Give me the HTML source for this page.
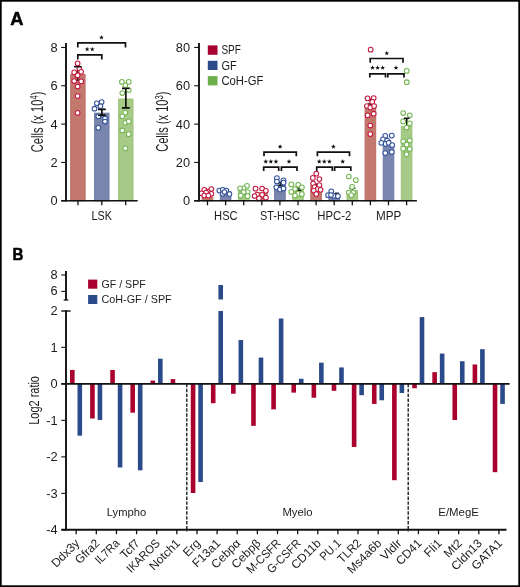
<!DOCTYPE html>
<html><head><meta charset="utf-8"><style>
html,body{margin:0;padding:0;background:#fff;}
body{width:520px;height:587px;overflow:hidden;}
svg{display:block;font-family:"Liberation Sans", sans-serif;will-change:transform;}
</style></head><body>
<svg width="520" height="587" viewBox="0 0 520 587">
<rect x="0" y="0" width="520" height="587" fill="#fff"/>
<text transform="translate(10.25,24.75) scale(1.04,1)" font-size="17.6" font-weight="bold" fill="#000" stroke="#000" stroke-width="0.45">A</text>
<line x1="61.20" y1="200.80" x2="66.00" y2="200.80" stroke="#111" stroke-width="1.1" />
<text x="57.60" y="205.35" font-size="12.8" text-anchor="end" font-weight="normal" fill="#1c1c1c" >0</text>
<line x1="61.20" y1="162.46" x2="66.00" y2="162.46" stroke="#111" stroke-width="1.1" />
<text x="57.60" y="167.01" font-size="12.8" text-anchor="end" font-weight="normal" fill="#1c1c1c" >2</text>
<line x1="61.20" y1="124.12" x2="66.00" y2="124.12" stroke="#111" stroke-width="1.1" />
<text x="57.60" y="128.67" font-size="12.8" text-anchor="end" font-weight="normal" fill="#1c1c1c" >4</text>
<line x1="61.20" y1="85.78" x2="66.00" y2="85.78" stroke="#111" stroke-width="1.1" />
<text x="57.60" y="90.33" font-size="12.8" text-anchor="end" font-weight="normal" fill="#1c1c1c" >6</text>
<line x1="61.20" y1="47.44" x2="66.00" y2="47.44" stroke="#111" stroke-width="1.1" />
<text x="57.60" y="51.99" font-size="12.8" text-anchor="end" font-weight="normal" fill="#1c1c1c" >8</text>
<rect x="70.70" y="74.50" width="14.40" height="126.30" fill="#c3786d" stroke="#bb6b61" stroke-width="1"/>
<rect x="94.60" y="113.20" width="14.40" height="87.60" fill="#7a85ad" stroke="#6f7aa6" stroke-width="1"/>
<rect x="118.60" y="99.00" width="14.40" height="101.80" fill="#a8ca88" stroke="#9cc37b" stroke-width="1"/>
<line x1="77.80" y1="66.70" x2="77.80" y2="81.00" stroke="#111" stroke-width="1.3" />
<line x1="101.80" y1="109.40" x2="101.80" y2="115.30" stroke="#111" stroke-width="1.3" />
<line x1="98.00" y1="109.40" x2="105.60" y2="109.40" stroke="#111" stroke-width="1.5" />
<line x1="98.00" y1="115.30" x2="105.60" y2="115.30" stroke="#111" stroke-width="1.5" />
<line x1="125.80" y1="88.40" x2="125.80" y2="107.80" stroke="#111" stroke-width="1.3" />
<line x1="122.00" y1="88.40" x2="129.60" y2="88.40" stroke="#111" stroke-width="1.5" />
<line x1="122.00" y1="107.80" x2="129.60" y2="107.80" stroke="#111" stroke-width="1.5" />
<circle cx="77.60" cy="63.40" r="2.35" fill="#fff" stroke="#c41a40" stroke-width="1.05"/>
<circle cx="79.30" cy="68.80" r="2.35" fill="#fff" stroke="#c41a40" stroke-width="1.05"/>
<circle cx="74.20" cy="72.40" r="2.35" fill="#fff" stroke="#c41a40" stroke-width="1.05"/>
<circle cx="81.20" cy="71.80" r="2.35" fill="#fff" stroke="#c41a40" stroke-width="1.05"/>
<circle cx="77.60" cy="75.40" r="2.35" fill="#fff" stroke="#c41a40" stroke-width="1.05"/>
<circle cx="74.20" cy="81.00" r="2.35" fill="#fff" stroke="#c41a40" stroke-width="1.05"/>
<circle cx="81.20" cy="81.40" r="2.35" fill="#fff" stroke="#c41a40" stroke-width="1.05"/>
<circle cx="77.60" cy="86.50" r="2.35" fill="#fff" stroke="#c41a40" stroke-width="1.05"/>
<circle cx="77.60" cy="96.10" r="2.35" fill="#fff" stroke="#c41a40" stroke-width="1.05"/>
<circle cx="77.60" cy="112.90" r="2.35" fill="#fff" stroke="#c41a40" stroke-width="1.05"/>
<line x1="74.00" y1="66.70" x2="81.60" y2="66.70" stroke="#111" stroke-width="1.5" />
<circle cx="101.60" cy="102.10" r="2.35" fill="#fff" stroke="#32529a" stroke-width="1.05"/>
<circle cx="96.80" cy="103.30" r="2.35" fill="#fff" stroke="#32529a" stroke-width="1.05"/>
<circle cx="100.40" cy="106.20" r="2.35" fill="#fff" stroke="#32529a" stroke-width="1.05"/>
<circle cx="94.50" cy="108.70" r="2.35" fill="#fff" stroke="#32529a" stroke-width="1.05"/>
<circle cx="98.30" cy="116.40" r="2.35" fill="#fff" stroke="#32529a" stroke-width="1.05"/>
<circle cx="105.00" cy="118.60" r="2.35" fill="#fff" stroke="#32529a" stroke-width="1.05"/>
<circle cx="105.00" cy="121.50" r="2.35" fill="#fff" stroke="#32529a" stroke-width="1.05"/>
<circle cx="98.30" cy="127.80" r="2.35" fill="#fff" stroke="#32529a" stroke-width="1.05"/>
<line x1="101.80" y1="109.40" x2="101.80" y2="115.30" stroke="#111" stroke-width="1.3" />
<line x1="98.00" y1="109.40" x2="105.60" y2="109.40" stroke="#111" stroke-width="1.5" />
<line x1="98.00" y1="115.30" x2="105.60" y2="115.30" stroke="#111" stroke-width="1.5" />
<circle cx="121.90" cy="81.90" r="2.35" fill="#fff" stroke="#74b652" stroke-width="1.05"/>
<circle cx="128.70" cy="81.90" r="2.35" fill="#fff" stroke="#74b652" stroke-width="1.05"/>
<circle cx="125.30" cy="85.30" r="2.35" fill="#fff" stroke="#74b652" stroke-width="1.05"/>
<circle cx="122.30" cy="93.00" r="2.35" fill="#fff" stroke="#74b652" stroke-width="1.05"/>
<circle cx="128.70" cy="90.10" r="2.35" fill="#fff" stroke="#74b652" stroke-width="1.05"/>
<circle cx="125.30" cy="112.60" r="2.35" fill="#fff" stroke="#74b652" stroke-width="1.05"/>
<circle cx="122.30" cy="116.30" r="2.35" fill="#fff" stroke="#74b652" stroke-width="1.05"/>
<circle cx="125.30" cy="122.80" r="2.35" fill="#fff" stroke="#74b652" stroke-width="1.05"/>
<circle cx="128.70" cy="121.40" r="2.35" fill="#fff" stroke="#74b652" stroke-width="1.05"/>
<circle cx="122.30" cy="130.50" r="2.35" fill="#fff" stroke="#74b652" stroke-width="1.05"/>
<circle cx="128.70" cy="134.20" r="2.35" fill="#fff" stroke="#74b652" stroke-width="1.05"/>
<circle cx="125.30" cy="148.40" r="2.35" fill="#fff" stroke="#74b652" stroke-width="1.05"/>
<line x1="125.80" y1="88.40" x2="125.80" y2="107.80" stroke="#111" stroke-width="1.3" />
<line x1="122.00" y1="88.40" x2="129.60" y2="88.40" stroke="#111" stroke-width="1.5" />
<line x1="122.00" y1="107.80" x2="129.60" y2="107.80" stroke="#111" stroke-width="1.5" />
<line x1="66.00" y1="43.10" x2="66.00" y2="201.60" stroke="#111" stroke-width="1.9" />
<line x1="61.20" y1="200.80" x2="137.70" y2="200.80" stroke="#111" stroke-width="1.6" />
<line x1="78.00" y1="200.80" x2="78.00" y2="205.30" stroke="#111" stroke-width="1.3" />
<line x1="101.80" y1="200.80" x2="101.80" y2="205.30" stroke="#111" stroke-width="1.3" />
<line x1="125.70" y1="200.80" x2="125.70" y2="205.30" stroke="#111" stroke-width="1.3" />
<path d="M77.80 47.60V42.80H125.50V47.60" fill="none" stroke="#111" stroke-width="1.7"/>
<path d="M77.80 59.50V54.80H101.80V59.50" fill="none" stroke="#111" stroke-width="1.7"/>
<polygon points="101.50,35.00 102.12,36.65 103.88,36.73 102.50,37.82 102.97,39.52 101.50,38.55 100.03,39.52 100.50,37.82 99.12,36.73 100.88,36.65" fill="#111"/>
<polygon points="87.15,46.80 87.77,48.45 89.53,48.53 88.15,49.62 88.62,51.32 87.15,50.35 85.68,51.32 86.15,49.62 84.77,48.53 86.53,48.45" fill="#111"/>
<polygon points="92.25,46.80 92.87,48.45 94.63,48.53 93.25,49.62 93.72,51.32 92.25,50.35 90.78,51.32 91.25,49.62 89.87,48.53 91.63,48.45" fill="#111"/>
<text x="101.80" y="220.20" font-size="12" text-anchor="middle" textLength="20.5" lengthAdjust="spacingAndGlyphs" fill="#1c1c1c" >LSK</text>
<text transform="translate(43.00,121.90) rotate(-90) scale(0.68,1)" font-size="16.4" text-anchor="middle" fill="#1c1c1c">Cells (x 10<tspan font-size="11.3" dy="-5.2">4</tspan><tspan dy="5.2">)</tspan></text>
<line x1="194.20" y1="200.80" x2="199.00" y2="200.80" stroke="#111" stroke-width="1.1" />
<text x="190.00" y="205.35" font-size="12.8" text-anchor="end" font-weight="normal" fill="#1c1c1c" >0</text>
<line x1="194.20" y1="162.46" x2="199.00" y2="162.46" stroke="#111" stroke-width="1.1" />
<text x="190.00" y="167.01" font-size="12.8" text-anchor="end" font-weight="normal" fill="#1c1c1c" >20</text>
<line x1="194.20" y1="124.12" x2="199.00" y2="124.12" stroke="#111" stroke-width="1.1" />
<text x="190.00" y="128.67" font-size="12.8" text-anchor="end" font-weight="normal" fill="#1c1c1c" >40</text>
<line x1="194.20" y1="85.77" x2="199.00" y2="85.77" stroke="#111" stroke-width="1.1" />
<text x="190.00" y="90.32" font-size="12.8" text-anchor="end" font-weight="normal" fill="#1c1c1c" >60</text>
<line x1="194.20" y1="47.43" x2="199.00" y2="47.43" stroke="#111" stroke-width="1.1" />
<text x="190.00" y="51.98" font-size="12.8" text-anchor="end" font-weight="normal" fill="#1c1c1c" >80</text>
<rect x="202.20" y="197.20" width="10.60" height="3.60" fill="#c3786d" stroke="#bb6b61" stroke-width="1"/>
<rect x="220.30" y="191.70" width="10.60" height="9.10" fill="#7a85ad" stroke="#6f7aa6" stroke-width="1"/>
<rect x="238.40" y="191.50" width="10.60" height="9.30" fill="#a8ca88" stroke="#9cc37b" stroke-width="1"/>
<rect x="256.50" y="193.00" width="10.60" height="7.80" fill="#c3786d" stroke="#bb6b61" stroke-width="1"/>
<rect x="274.60" y="185.30" width="10.60" height="15.50" fill="#7a85ad" stroke="#6f7aa6" stroke-width="1"/>
<rect x="292.70" y="190.70" width="10.60" height="10.10" fill="#a8ca88" stroke="#9cc37b" stroke-width="1"/>
<rect x="310.80" y="186.30" width="10.60" height="14.50" fill="#c3786d" stroke="#bb6b61" stroke-width="1"/>
<rect x="328.90" y="196.10" width="10.60" height="4.70" fill="#7a85ad" stroke="#6f7aa6" stroke-width="1"/>
<rect x="347.00" y="190.70" width="10.60" height="10.10" fill="#a8ca88" stroke="#9cc37b" stroke-width="1"/>
<rect x="365.10" y="107.50" width="10.60" height="93.30" fill="#c3786d" stroke="#bb6b61" stroke-width="1"/>
<rect x="383.20" y="146.40" width="10.60" height="54.40" fill="#7a85ad" stroke="#6f7aa6" stroke-width="1"/>
<rect x="401.30" y="126.50" width="10.60" height="74.30" fill="#a8ca88" stroke="#9cc37b" stroke-width="1"/>
<line x1="406.70" y1="118.30" x2="406.70" y2="126.00" stroke="#111" stroke-width="1.3" />
<line x1="316.40" y1="184.30" x2="316.40" y2="190.00" stroke="#111" stroke-width="1.3" />
<line x1="313.80" y1="184.30" x2="319.00" y2="184.30" stroke="#111" stroke-width="1.5" />
<line x1="313.80" y1="190.00" x2="319.00" y2="190.00" stroke="#111" stroke-width="1.5" />
<line x1="352.40" y1="188.30" x2="352.40" y2="193.00" stroke="#111" stroke-width="1.3" />
<line x1="349.40" y1="188.30" x2="355.40" y2="188.30" stroke="#111" stroke-width="1.5" />
<line x1="349.40" y1="193.00" x2="355.40" y2="193.00" stroke="#111" stroke-width="1.5" />
<line x1="370.50" y1="99.30" x2="370.50" y2="104.00" stroke="#111" stroke-width="1.3" />
<line x1="367.90" y1="99.30" x2="373.10" y2="99.30" stroke="#111" stroke-width="1.5" />
<line x1="367.90" y1="104.00" x2="373.10" y2="104.00" stroke="#111" stroke-width="1.5" />
<line x1="337.00" y1="193.30" x2="337.00" y2="196.00" stroke="#111" stroke-width="1.3" />
<line x1="335.00" y1="193.30" x2="339.00" y2="193.30" stroke="#111" stroke-width="1.5" />
<line x1="335.00" y1="196.00" x2="339.00" y2="196.00" stroke="#111" stroke-width="1.5" />
<line x1="388.40" y1="141.00" x2="388.40" y2="144.00" stroke="#111" stroke-width="1.3" />
<line x1="385.90" y1="141.00" x2="390.90" y2="141.00" stroke="#111" stroke-width="1.5" />
<line x1="385.90" y1="144.00" x2="390.90" y2="144.00" stroke="#111" stroke-width="1.5" />
<line x1="280.20" y1="182.50" x2="280.20" y2="185.50" stroke="#111" stroke-width="1.3" />
<line x1="277.70" y1="182.50" x2="282.70" y2="182.50" stroke="#111" stroke-width="1.5" />
<line x1="277.70" y1="185.50" x2="282.70" y2="185.50" stroke="#111" stroke-width="1.5" />
<line x1="299.00" y1="188.00" x2="299.00" y2="190.50" stroke="#111" stroke-width="1.3" />
<line x1="296.50" y1="188.00" x2="301.50" y2="188.00" stroke="#111" stroke-width="1.5" />
<line x1="296.50" y1="190.50" x2="301.50" y2="190.50" stroke="#111" stroke-width="1.5" />
<circle cx="204.30" cy="189.80" r="2.35" fill="#fff" stroke="#c41a40" stroke-width="1.05"/>
<circle cx="211.30" cy="189.00" r="2.35" fill="#fff" stroke="#c41a40" stroke-width="1.05"/>
<circle cx="207.80" cy="191.50" r="2.35" fill="#fff" stroke="#c41a40" stroke-width="1.05"/>
<circle cx="201.50" cy="193.30" r="2.35" fill="#fff" stroke="#c41a40" stroke-width="1.05"/>
<circle cx="206.10" cy="192.70" r="2.35" fill="#fff" stroke="#c41a40" stroke-width="1.05"/>
<circle cx="211.30" cy="193.80" r="2.35" fill="#fff" stroke="#c41a40" stroke-width="1.05"/>
<circle cx="204.30" cy="195.60" r="2.35" fill="#fff" stroke="#c41a40" stroke-width="1.05"/>
<circle cx="208.40" cy="195.60" r="2.35" fill="#fff" stroke="#c41a40" stroke-width="1.05"/>
<circle cx="219.30" cy="190.60" r="2.35" fill="#fff" stroke="#32529a" stroke-width="1.05"/>
<circle cx="222.80" cy="189.80" r="2.35" fill="#fff" stroke="#32529a" stroke-width="1.05"/>
<circle cx="226.30" cy="190.60" r="2.35" fill="#fff" stroke="#32529a" stroke-width="1.05"/>
<circle cx="222.80" cy="193.80" r="2.35" fill="#fff" stroke="#32529a" stroke-width="1.05"/>
<circle cx="229.40" cy="194.10" r="2.35" fill="#fff" stroke="#32529a" stroke-width="1.05"/>
<circle cx="224.50" cy="192.00" r="2.35" fill="#fff" stroke="#32529a" stroke-width="1.05"/>
<circle cx="247.00" cy="185.80" r="2.35" fill="#fff" stroke="#74b652" stroke-width="1.05"/>
<circle cx="243.60" cy="188.30" r="2.35" fill="#fff" stroke="#74b652" stroke-width="1.05"/>
<circle cx="240.10" cy="188.30" r="2.35" fill="#fff" stroke="#74b652" stroke-width="1.05"/>
<circle cx="247.60" cy="192.10" r="2.35" fill="#fff" stroke="#74b652" stroke-width="1.05"/>
<circle cx="243.60" cy="192.10" r="2.35" fill="#fff" stroke="#74b652" stroke-width="1.05"/>
<circle cx="240.70" cy="195.60" r="2.35" fill="#fff" stroke="#74b652" stroke-width="1.05"/>
<circle cx="247.60" cy="196.20" r="2.35" fill="#fff" stroke="#74b652" stroke-width="1.05"/>
<circle cx="255.50" cy="188.70" r="2.35" fill="#fff" stroke="#c41a40" stroke-width="1.05"/>
<circle cx="262.10" cy="188.50" r="2.35" fill="#fff" stroke="#c41a40" stroke-width="1.05"/>
<circle cx="265.90" cy="190.80" r="2.35" fill="#fff" stroke="#c41a40" stroke-width="1.05"/>
<circle cx="257.20" cy="194.50" r="2.35" fill="#fff" stroke="#c41a40" stroke-width="1.05"/>
<circle cx="262.10" cy="194.80" r="2.35" fill="#fff" stroke="#c41a40" stroke-width="1.05"/>
<circle cx="265.90" cy="197.70" r="2.35" fill="#fff" stroke="#c41a40" stroke-width="1.05"/>
<circle cx="259.00" cy="198.30" r="2.35" fill="#fff" stroke="#c41a40" stroke-width="1.05"/>
<circle cx="254.60" cy="196.00" r="2.35" fill="#fff" stroke="#c41a40" stroke-width="1.05"/>
<circle cx="276.90" cy="178.10" r="2.35" fill="#fff" stroke="#32529a" stroke-width="1.05"/>
<circle cx="283.50" cy="180.40" r="2.35" fill="#fff" stroke="#32529a" stroke-width="1.05"/>
<circle cx="276.90" cy="181.50" r="2.35" fill="#fff" stroke="#32529a" stroke-width="1.05"/>
<circle cx="283.50" cy="182.70" r="2.35" fill="#fff" stroke="#32529a" stroke-width="1.05"/>
<circle cx="276.30" cy="187.30" r="2.35" fill="#fff" stroke="#32529a" stroke-width="1.05"/>
<circle cx="280.00" cy="189.60" r="2.35" fill="#fff" stroke="#32529a" stroke-width="1.05"/>
<circle cx="283.50" cy="188.50" r="2.35" fill="#fff" stroke="#32529a" stroke-width="1.05"/>
<circle cx="291.30" cy="184.40" r="2.35" fill="#fff" stroke="#74b652" stroke-width="1.05"/>
<circle cx="298.20" cy="184.80" r="2.35" fill="#fff" stroke="#74b652" stroke-width="1.05"/>
<circle cx="301.90" cy="187.30" r="2.35" fill="#fff" stroke="#74b652" stroke-width="1.05"/>
<circle cx="295.00" cy="189.00" r="2.35" fill="#fff" stroke="#74b652" stroke-width="1.05"/>
<circle cx="291.30" cy="191.90" r="2.35" fill="#fff" stroke="#74b652" stroke-width="1.05"/>
<circle cx="298.20" cy="193.70" r="2.35" fill="#fff" stroke="#74b652" stroke-width="1.05"/>
<circle cx="301.90" cy="194.20" r="2.35" fill="#fff" stroke="#74b652" stroke-width="1.05"/>
<circle cx="295.00" cy="195.60" r="2.35" fill="#fff" stroke="#74b652" stroke-width="1.05"/>
<circle cx="316.30" cy="173.70" r="2.35" fill="#fff" stroke="#c41a40" stroke-width="1.05"/>
<circle cx="312.80" cy="177.90" r="2.35" fill="#fff" stroke="#c41a40" stroke-width="1.05"/>
<circle cx="319.40" cy="179.10" r="2.35" fill="#fff" stroke="#c41a40" stroke-width="1.05"/>
<circle cx="313.10" cy="183.50" r="2.35" fill="#fff" stroke="#c41a40" stroke-width="1.05"/>
<circle cx="319.40" cy="185.20" r="2.35" fill="#fff" stroke="#c41a40" stroke-width="1.05"/>
<circle cx="314.50" cy="187.20" r="2.35" fill="#fff" stroke="#c41a40" stroke-width="1.05"/>
<circle cx="317.70" cy="189.20" r="2.35" fill="#fff" stroke="#c41a40" stroke-width="1.05"/>
<circle cx="313.70" cy="190.60" r="2.35" fill="#fff" stroke="#c41a40" stroke-width="1.05"/>
<circle cx="320.60" cy="189.80" r="2.35" fill="#fff" stroke="#c41a40" stroke-width="1.05"/>
<circle cx="316.30" cy="194.10" r="2.35" fill="#fff" stroke="#c41a40" stroke-width="1.05"/>
<circle cx="331.30" cy="191.30" r="2.35" fill="#fff" stroke="#32529a" stroke-width="1.05"/>
<circle cx="328.10" cy="195.20" r="2.35" fill="#fff" stroke="#32529a" stroke-width="1.05"/>
<circle cx="333.60" cy="195.90" r="2.35" fill="#fff" stroke="#32529a" stroke-width="1.05"/>
<circle cx="337.90" cy="196.20" r="2.35" fill="#fff" stroke="#32529a" stroke-width="1.05"/>
<circle cx="331.00" cy="195.00" r="2.35" fill="#fff" stroke="#32529a" stroke-width="1.05"/>
<circle cx="348.80" cy="176.50" r="2.35" fill="#fff" stroke="#74b652" stroke-width="1.05"/>
<circle cx="355.80" cy="180.20" r="2.35" fill="#fff" stroke="#74b652" stroke-width="1.05"/>
<circle cx="352.10" cy="186.90" r="2.35" fill="#fff" stroke="#74b652" stroke-width="1.05"/>
<circle cx="348.80" cy="192.50" r="2.35" fill="#fff" stroke="#74b652" stroke-width="1.05"/>
<circle cx="353.20" cy="192.50" r="2.35" fill="#fff" stroke="#74b652" stroke-width="1.05"/>
<circle cx="351.20" cy="195.20" r="2.35" fill="#fff" stroke="#74b652" stroke-width="1.05"/>
<circle cx="370.65" cy="49.65" r="2.35" fill="#fff" stroke="#c41a40" stroke-width="1.05"/>
<circle cx="367.60" cy="98.40" r="2.35" fill="#fff" stroke="#c41a40" stroke-width="1.05"/>
<circle cx="373.70" cy="98.00" r="2.35" fill="#fff" stroke="#c41a40" stroke-width="1.05"/>
<circle cx="372.20" cy="101.90" r="2.35" fill="#fff" stroke="#c41a40" stroke-width="1.05"/>
<circle cx="366.90" cy="106.10" r="2.35" fill="#fff" stroke="#c41a40" stroke-width="1.05"/>
<circle cx="370.30" cy="107.60" r="2.35" fill="#fff" stroke="#c41a40" stroke-width="1.05"/>
<circle cx="374.10" cy="106.10" r="2.35" fill="#fff" stroke="#c41a40" stroke-width="1.05"/>
<circle cx="367.60" cy="115.30" r="2.35" fill="#fff" stroke="#c41a40" stroke-width="1.05"/>
<circle cx="373.70" cy="113.70" r="2.35" fill="#fff" stroke="#c41a40" stroke-width="1.05"/>
<circle cx="370.30" cy="125.50" r="2.35" fill="#fff" stroke="#c41a40" stroke-width="1.05"/>
<circle cx="370.30" cy="134.10" r="2.35" fill="#fff" stroke="#c41a40" stroke-width="1.05"/>
<circle cx="385.30" cy="135.90" r="2.35" fill="#fff" stroke="#32529a" stroke-width="1.05"/>
<circle cx="391.80" cy="135.60" r="2.35" fill="#fff" stroke="#32529a" stroke-width="1.05"/>
<circle cx="383.00" cy="139.30" r="2.35" fill="#fff" stroke="#32529a" stroke-width="1.05"/>
<circle cx="387.20" cy="140.50" r="2.35" fill="#fff" stroke="#32529a" stroke-width="1.05"/>
<circle cx="381.30" cy="142.80" r="2.35" fill="#fff" stroke="#32529a" stroke-width="1.05"/>
<circle cx="385.60" cy="143.90" r="2.35" fill="#fff" stroke="#32529a" stroke-width="1.05"/>
<circle cx="388.70" cy="142.80" r="2.35" fill="#fff" stroke="#32529a" stroke-width="1.05"/>
<circle cx="392.20" cy="145.10" r="2.35" fill="#fff" stroke="#32529a" stroke-width="1.05"/>
<circle cx="385.30" cy="153.10" r="2.35" fill="#fff" stroke="#32529a" stroke-width="1.05"/>
<circle cx="391.80" cy="152.00" r="2.35" fill="#fff" stroke="#32529a" stroke-width="1.05"/>
<circle cx="406.75" cy="70.90" r="2.35" fill="#fff" stroke="#74b652" stroke-width="1.05"/>
<circle cx="406.80" cy="82.20" r="2.35" fill="#fff" stroke="#74b652" stroke-width="1.05"/>
<circle cx="403.20" cy="113.00" r="2.35" fill="#fff" stroke="#74b652" stroke-width="1.05"/>
<circle cx="409.80" cy="115.30" r="2.35" fill="#fff" stroke="#74b652" stroke-width="1.05"/>
<circle cx="403.20" cy="121.40" r="2.35" fill="#fff" stroke="#74b652" stroke-width="1.05"/>
<circle cx="409.80" cy="123.40" r="2.35" fill="#fff" stroke="#74b652" stroke-width="1.05"/>
<circle cx="406.60" cy="127.50" r="2.35" fill="#fff" stroke="#74b652" stroke-width="1.05"/>
<circle cx="403.20" cy="141.30" r="2.35" fill="#fff" stroke="#74b652" stroke-width="1.05"/>
<circle cx="409.80" cy="140.50" r="2.35" fill="#fff" stroke="#74b652" stroke-width="1.05"/>
<circle cx="406.60" cy="144.70" r="2.35" fill="#fff" stroke="#74b652" stroke-width="1.05"/>
<circle cx="403.20" cy="148.70" r="2.35" fill="#fff" stroke="#74b652" stroke-width="1.05"/>
<circle cx="409.80" cy="149.00" r="2.35" fill="#fff" stroke="#74b652" stroke-width="1.05"/>
<circle cx="406.60" cy="154.30" r="2.35" fill="#fff" stroke="#74b652" stroke-width="1.05"/>
<line x1="403.90" y1="118.30" x2="409.50" y2="118.30" stroke="#111" stroke-width="1.5" />
<line x1="406.70" y1="118.30" x2="406.70" y2="121.50" stroke="#111" stroke-width="1.3" />
<line x1="199.00" y1="43.10" x2="199.00" y2="201.60" stroke="#111" stroke-width="1.9" />
<line x1="194.20" y1="200.80" x2="416.90" y2="200.80" stroke="#111" stroke-width="1.6" />
<line x1="207.50" y1="200.80" x2="207.50" y2="205.30" stroke="#111" stroke-width="1.3" />
<line x1="225.60" y1="200.80" x2="225.60" y2="205.30" stroke="#111" stroke-width="1.3" />
<line x1="243.70" y1="200.80" x2="243.70" y2="205.30" stroke="#111" stroke-width="1.3" />
<line x1="261.80" y1="200.80" x2="261.80" y2="205.30" stroke="#111" stroke-width="1.3" />
<line x1="279.90" y1="200.80" x2="279.90" y2="205.30" stroke="#111" stroke-width="1.3" />
<line x1="298.00" y1="200.80" x2="298.00" y2="205.30" stroke="#111" stroke-width="1.3" />
<line x1="316.10" y1="200.80" x2="316.10" y2="205.30" stroke="#111" stroke-width="1.3" />
<line x1="334.20" y1="200.80" x2="334.20" y2="205.30" stroke="#111" stroke-width="1.3" />
<line x1="352.30" y1="200.80" x2="352.30" y2="205.30" stroke="#111" stroke-width="1.3" />
<line x1="370.40" y1="200.80" x2="370.40" y2="205.30" stroke="#111" stroke-width="1.3" />
<line x1="388.50" y1="200.80" x2="388.50" y2="205.30" stroke="#111" stroke-width="1.3" />
<line x1="406.60" y1="200.80" x2="406.60" y2="205.30" stroke="#111" stroke-width="1.3" />
<path d="M264.00 156.30V152.10H296.30V156.30" fill="none" stroke="#111" stroke-width="1.7"/>
<path d="M263.70 171.00V167.20H278.70V171.00" fill="none" stroke="#111" stroke-width="1.7"/>
<path d="M281.40 171.00V167.20H297.00V171.00" fill="none" stroke="#111" stroke-width="1.7"/>
<polygon points="280.10,144.20 280.72,145.85 282.48,145.93 281.10,147.02 281.57,148.72 280.10,147.75 278.63,148.72 279.10,147.02 277.72,145.93 279.48,145.85" fill="#111"/>
<polygon points="265.75,159.10 266.37,160.75 268.13,160.83 266.75,161.92 267.22,163.62 265.75,162.65 264.28,163.62 264.75,161.92 263.37,160.83 265.13,160.75" fill="#111"/>
<polygon points="270.85,159.10 271.47,160.75 273.23,160.83 271.85,161.92 272.32,163.62 270.85,162.65 269.38,163.62 269.85,161.92 268.47,160.83 270.23,160.75" fill="#111"/>
<polygon points="275.95,159.10 276.57,160.75 278.33,160.83 276.95,161.92 277.42,163.62 275.95,162.65 274.48,163.62 274.95,161.92 273.57,160.83 275.33,160.75" fill="#111"/>
<polygon points="289.00,159.10 289.62,160.75 291.38,160.83 290.00,161.92 290.47,163.62 289.00,162.65 287.53,163.62 288.00,161.92 286.62,160.83 288.38,160.75" fill="#111"/>
<path d="M317.40 156.30V152.10H349.50V156.30" fill="none" stroke="#111" stroke-width="1.7"/>
<path d="M316.70 171.00V167.20H332.30V171.00" fill="none" stroke="#111" stroke-width="1.7"/>
<path d="M334.60 171.00V167.20H350.80V171.00" fill="none" stroke="#111" stroke-width="1.7"/>
<polygon points="333.40,144.20 334.02,145.85 335.78,145.93 334.40,147.02 334.87,148.72 333.40,147.75 331.93,148.72 332.40,147.02 331.02,145.93 332.78,145.85" fill="#111"/>
<polygon points="319.20,159.10 319.82,160.75 321.58,160.83 320.20,161.92 320.67,163.62 319.20,162.65 317.73,163.62 318.20,161.92 316.82,160.83 318.58,160.75" fill="#111"/>
<polygon points="324.30,159.10 324.92,160.75 326.68,160.83 325.30,161.92 325.77,163.62 324.30,162.65 322.83,163.62 323.30,161.92 321.92,160.83 323.68,160.75" fill="#111"/>
<polygon points="329.40,159.10 330.02,160.75 331.78,160.83 330.40,161.92 330.87,163.62 329.40,162.65 327.93,163.62 328.40,161.92 327.02,160.83 328.78,160.75" fill="#111"/>
<polygon points="342.70,159.10 343.32,160.75 345.08,160.83 343.70,161.92 344.17,163.62 342.70,162.65 341.23,163.62 341.70,161.92 340.32,160.83 342.08,160.75" fill="#111"/>
<path d="M370.20 62.80V58.50H403.00V62.80" fill="none" stroke="#111" stroke-width="1.7"/>
<path d="M369.80 77.60V73.80H385.50V77.60" fill="none" stroke="#111" stroke-width="1.7"/>
<path d="M387.80 77.60V73.80H404.00V77.60" fill="none" stroke="#111" stroke-width="1.7"/>
<polygon points="386.80,50.80 387.42,52.45 389.18,52.53 387.80,53.62 388.27,55.32 386.80,54.35 385.33,55.32 385.80,53.62 384.42,52.53 386.18,52.45" fill="#111"/>
<polygon points="372.50,65.30 373.12,66.95 374.88,67.03 373.50,68.12 373.97,69.82 372.50,68.85 371.03,69.82 371.50,68.12 370.12,67.03 371.88,66.95" fill="#111"/>
<polygon points="377.60,65.30 378.22,66.95 379.98,67.03 378.60,68.12 379.07,69.82 377.60,68.85 376.13,69.82 376.60,68.12 375.22,67.03 376.98,66.95" fill="#111"/>
<polygon points="382.70,65.30 383.32,66.95 385.08,67.03 383.70,68.12 384.17,69.82 382.70,68.85 381.23,69.82 381.70,68.12 380.32,67.03 382.08,66.95" fill="#111"/>
<polygon points="396.00,65.30 396.62,66.95 398.38,67.03 397.00,68.12 397.47,69.82 396.00,68.85 394.53,69.82 395.00,68.12 393.62,67.03 395.38,66.95" fill="#111"/>
<text x="225.85" y="220.00" font-size="12" text-anchor="middle" textLength="23.5" lengthAdjust="spacingAndGlyphs" fill="#1c1c1c" >HSC</text>
<text x="280.00" y="220.00" font-size="12" text-anchor="middle" textLength="40.0" lengthAdjust="spacingAndGlyphs" fill="#1c1c1c" >ST-HSC</text>
<text x="334.30" y="220.00" font-size="12" text-anchor="middle" textLength="34.0" lengthAdjust="spacingAndGlyphs" fill="#1c1c1c" >HPC-2</text>
<text x="388.65" y="219.50" font-size="12" text-anchor="middle" textLength="25.3" lengthAdjust="spacingAndGlyphs" fill="#1c1c1c" >MPP</text>
<rect x="207.80" y="45.40" width="9.70" height="9.40" fill="#aa0030"/>
<rect x="207.80" y="60.80" width="9.70" height="9.20" fill="#2c4a8a"/>
<rect x="207.80" y="76.10" width="9.70" height="9.30" fill="#6bb04a"/>
<text x="221.40" y="54.00" font-size="12" text-anchor="start" textLength="19.5" lengthAdjust="spacingAndGlyphs" fill="#1c1c1c" >SPF</text>
<text x="221.40" y="69.50" font-size="12" text-anchor="start" textLength="15.2" lengthAdjust="spacingAndGlyphs" fill="#1c1c1c" >GF</text>
<text x="221.40" y="84.60" font-size="12" text-anchor="start" textLength="42.0" lengthAdjust="spacingAndGlyphs" fill="#1c1c1c" >CoH-GF</text>
<text transform="translate(168.40,121.70) rotate(-90) scale(0.675,1)" font-size="16.4" text-anchor="middle" fill="#1c1c1c">Cells (x 10<tspan font-size="11.3" dy="-5.2">3</tspan><tspan dy="5.2">)</tspan></text>
<text transform="translate(12.5,259.6) scale(0.87,1)" font-size="17.4" font-weight="bold" fill="#000" stroke="#000" stroke-width="0.55">B</text>
<line x1="66.00" y1="271.00" x2="66.00" y2="300.00" stroke="#111" stroke-width="1.9" />
<line x1="61.30" y1="275.00" x2="66.00" y2="275.00" stroke="#111" stroke-width="1.1" />
<line x1="61.30" y1="291.40" x2="66.00" y2="291.40" stroke="#111" stroke-width="1.1" />
<line x1="63.70" y1="300.00" x2="68.30" y2="300.00" stroke="#111" stroke-width="1.3" />
<text x="57.60" y="278.95" font-size="12.8" text-anchor="end" font-weight="normal" fill="#1c1c1c" >8</text>
<text x="57.60" y="295.35" font-size="12.8" text-anchor="end" font-weight="normal" fill="#1c1c1c" >6</text>
<line x1="66.00" y1="310.30" x2="66.00" y2="530.60" stroke="#111" stroke-width="1.9" />
<line x1="61.30" y1="311.00" x2="70.60" y2="311.00" stroke="#111" stroke-width="1.4" />
<text x="57.60" y="315.40" font-size="12.8" text-anchor="end" font-weight="normal" fill="#1c1c1c" >2</text>
<line x1="61.30" y1="347.35" x2="66.00" y2="347.35" stroke="#111" stroke-width="1.1" />
<text x="57.60" y="351.90" font-size="12.8" text-anchor="end" font-weight="normal" fill="#1c1c1c" >1</text>
<line x1="61.30" y1="383.85" x2="66.00" y2="383.85" stroke="#111" stroke-width="1.1" />
<text x="57.60" y="388.40" font-size="12.8" text-anchor="end" font-weight="normal" fill="#1c1c1c" >0</text>
<line x1="61.30" y1="420.35" x2="66.00" y2="420.35" stroke="#111" stroke-width="1.1" />
<text x="57.60" y="424.90" font-size="12.8" text-anchor="end" font-weight="normal" fill="#1c1c1c" >-1</text>
<line x1="61.30" y1="456.85" x2="66.00" y2="456.85" stroke="#111" stroke-width="1.1" />
<text x="57.60" y="461.40" font-size="12.8" text-anchor="end" font-weight="normal" fill="#1c1c1c" >-2</text>
<line x1="61.30" y1="493.35" x2="66.00" y2="493.35" stroke="#111" stroke-width="1.1" />
<text x="57.60" y="497.90" font-size="12.8" text-anchor="end" font-weight="normal" fill="#1c1c1c" >-3</text>
<line x1="61.30" y1="529.85" x2="66.00" y2="529.85" stroke="#111" stroke-width="1.1" />
<text x="57.60" y="534.40" font-size="12.8" text-anchor="end" font-weight="normal" fill="#1c1c1c" >-4</text>
<rect x="70.00" y="369.98" width="4.60" height="13.87" fill="#aa002e"/>
<rect x="77.50" y="383.85" width="4.60" height="51.83" fill="#2b4a8a"/>
<rect x="90.13" y="383.85" width="4.60" height="34.68" fill="#aa002e"/>
<rect x="97.63" y="383.85" width="4.60" height="36.13" fill="#2b4a8a"/>
<rect x="110.26" y="369.98" width="4.60" height="13.87" fill="#aa002e"/>
<rect x="117.76" y="383.85" width="4.60" height="83.59" fill="#2b4a8a"/>
<rect x="130.39" y="383.85" width="4.60" height="28.83" fill="#aa002e"/>
<rect x="137.89" y="383.85" width="4.60" height="86.50" fill="#2b4a8a"/>
<rect x="150.52" y="380.56" width="4.60" height="3.29" fill="#aa002e"/>
<rect x="158.02" y="358.67" width="4.60" height="25.19" fill="#2b4a8a"/>
<rect x="170.65" y="379.11" width="4.60" height="4.75" fill="#aa002e"/>
<rect x="190.78" y="383.85" width="4.60" height="109.13" fill="#aa002e"/>
<rect x="198.28" y="383.85" width="4.60" height="98.19" fill="#2b4a8a"/>
<rect x="210.91" y="383.85" width="4.60" height="19.35" fill="#aa002e"/>
<rect x="218.41" y="311.00" width="4.60" height="72.85" fill="#2b4a8a"/>
<rect x="218.41" y="285.00" width="4.60" height="14.50" fill="#2b4a8a"/>
<rect x="231.04" y="383.85" width="4.60" height="9.86" fill="#aa002e"/>
<rect x="238.54" y="340.05" width="4.60" height="43.80" fill="#2b4a8a"/>
<rect x="251.17" y="383.85" width="4.60" height="41.98" fill="#aa002e"/>
<rect x="258.67" y="357.57" width="4.60" height="26.28" fill="#2b4a8a"/>
<rect x="271.30" y="383.85" width="4.60" height="25.55" fill="#aa002e"/>
<rect x="278.80" y="318.51" width="4.60" height="65.34" fill="#2b4a8a"/>
<rect x="291.43" y="383.85" width="4.60" height="8.76" fill="#aa002e"/>
<rect x="298.93" y="378.74" width="4.60" height="5.11" fill="#2b4a8a"/>
<rect x="311.56" y="383.85" width="4.60" height="13.87" fill="#aa002e"/>
<rect x="319.06" y="362.68" width="4.60" height="21.17" fill="#2b4a8a"/>
<rect x="331.69" y="383.85" width="4.60" height="6.94" fill="#aa002e"/>
<rect x="339.19" y="367.43" width="4.60" height="16.43" fill="#2b4a8a"/>
<rect x="351.82" y="383.85" width="4.60" height="63.14" fill="#aa002e"/>
<rect x="359.32" y="383.85" width="4.60" height="11.31" fill="#2b4a8a"/>
<rect x="371.95" y="383.85" width="4.60" height="20.07" fill="#aa002e"/>
<rect x="379.45" y="383.85" width="4.60" height="16.43" fill="#2b4a8a"/>
<rect x="392.08" y="383.85" width="4.60" height="96.36" fill="#aa002e"/>
<rect x="399.58" y="383.85" width="4.60" height="9.12" fill="#2b4a8a"/>
<rect x="412.21" y="383.85" width="4.60" height="4.38" fill="#aa002e"/>
<rect x="419.71" y="317.06" width="4.60" height="66.80" fill="#2b4a8a"/>
<rect x="432.34" y="372.17" width="4.60" height="11.68" fill="#aa002e"/>
<rect x="439.84" y="353.56" width="4.60" height="30.30" fill="#2b4a8a"/>
<rect x="452.47" y="383.85" width="4.60" height="36.13" fill="#aa002e"/>
<rect x="459.97" y="361.22" width="4.60" height="22.63" fill="#2b4a8a"/>
<rect x="472.60" y="364.50" width="4.60" height="19.35" fill="#aa002e"/>
<rect x="480.10" y="349.18" width="4.60" height="34.68" fill="#2b4a8a"/>
<rect x="492.73" y="383.85" width="4.60" height="88.33" fill="#aa002e"/>
<rect x="500.23" y="383.85" width="4.60" height="20.07" fill="#2b4a8a"/>
<line x1="61.30" y1="383.85" x2="509.60" y2="383.85" stroke="#111" stroke-width="1.6" />
<line x1="186.80" y1="383.85" x2="186.80" y2="531.50" stroke="#111" stroke-width="1.3" stroke-dasharray="3.4 1.5"/>
<line x1="408.20" y1="383.85" x2="408.20" y2="531.50" stroke="#111" stroke-width="1.3" stroke-dasharray="3.4 1.5"/>
<line x1="61.30" y1="529.80" x2="506.50" y2="529.80" stroke="#111" stroke-width="1.9" />
<line x1="76.20" y1="529.80" x2="76.20" y2="534.20" stroke="#111" stroke-width="1.3" />
<line x1="96.33" y1="529.80" x2="96.33" y2="534.20" stroke="#111" stroke-width="1.3" />
<line x1="116.46" y1="529.80" x2="116.46" y2="534.20" stroke="#111" stroke-width="1.3" />
<line x1="136.59" y1="529.80" x2="136.59" y2="534.20" stroke="#111" stroke-width="1.3" />
<line x1="156.72" y1="529.80" x2="156.72" y2="534.20" stroke="#111" stroke-width="1.3" />
<line x1="176.85" y1="529.80" x2="176.85" y2="534.20" stroke="#111" stroke-width="1.3" />
<line x1="196.98" y1="529.80" x2="196.98" y2="534.20" stroke="#111" stroke-width="1.3" />
<line x1="217.11" y1="529.80" x2="217.11" y2="534.20" stroke="#111" stroke-width="1.3" />
<line x1="237.24" y1="529.80" x2="237.24" y2="534.20" stroke="#111" stroke-width="1.3" />
<line x1="257.37" y1="529.80" x2="257.37" y2="534.20" stroke="#111" stroke-width="1.3" />
<line x1="277.50" y1="529.80" x2="277.50" y2="534.20" stroke="#111" stroke-width="1.3" />
<line x1="297.63" y1="529.80" x2="297.63" y2="534.20" stroke="#111" stroke-width="1.3" />
<line x1="317.76" y1="529.80" x2="317.76" y2="534.20" stroke="#111" stroke-width="1.3" />
<line x1="337.89" y1="529.80" x2="337.89" y2="534.20" stroke="#111" stroke-width="1.3" />
<line x1="358.02" y1="529.80" x2="358.02" y2="534.20" stroke="#111" stroke-width="1.3" />
<line x1="378.15" y1="529.80" x2="378.15" y2="534.20" stroke="#111" stroke-width="1.3" />
<line x1="398.28" y1="529.80" x2="398.28" y2="534.20" stroke="#111" stroke-width="1.3" />
<line x1="418.41" y1="529.80" x2="418.41" y2="534.20" stroke="#111" stroke-width="1.3" />
<line x1="438.54" y1="529.80" x2="438.54" y2="534.20" stroke="#111" stroke-width="1.3" />
<line x1="458.67" y1="529.80" x2="458.67" y2="534.20" stroke="#111" stroke-width="1.3" />
<line x1="478.80" y1="529.80" x2="478.80" y2="534.20" stroke="#111" stroke-width="1.3" />
<line x1="498.93" y1="529.80" x2="498.93" y2="534.20" stroke="#111" stroke-width="1.3" />
<text transform="translate(80.20,544.0) rotate(-45) scale(1.0,1)" font-size="12" text-anchor="end" fill="#1c1c1c">Ddx3y</text>
<text transform="translate(100.33,544.0) rotate(-45) scale(0.97,1)" font-size="12" text-anchor="end" fill="#1c1c1c">Gfra2</text>
<text transform="translate(120.46,544.0) rotate(-45) scale(0.92,1)" font-size="12" text-anchor="end" fill="#1c1c1c">IL7Ra</text>
<text transform="translate(140.59,544.0) rotate(-45) scale(1.0,1)" font-size="12" text-anchor="end" fill="#1c1c1c">Tcf7</text>
<text transform="translate(160.72,544.0) rotate(-45) scale(0.92,1)" font-size="12" text-anchor="end" fill="#1c1c1c">IKAROS</text>
<text transform="translate(180.85,544.0) rotate(-45) scale(1.0,1)" font-size="12" text-anchor="end" fill="#1c1c1c">Notch1</text>
<text transform="translate(200.98,544.0) rotate(-45) scale(1.0,1)" font-size="12" text-anchor="end" fill="#1c1c1c">Erg</text>
<text transform="translate(221.11,544.0) rotate(-45) scale(1.0,1)" font-size="12" text-anchor="end" fill="#1c1c1c">F13a1</text>
<text transform="translate(241.24,544.0) rotate(-45) scale(1.0,1)" font-size="12" text-anchor="end" fill="#1c1c1c">Cebp&#945;</text>
<text transform="translate(261.37,544.0) rotate(-45) scale(1.0,1)" font-size="12" text-anchor="end" fill="#1c1c1c">Cebp&#946;</text>
<text transform="translate(281.50,544.0) rotate(-45) scale(0.92,1)" font-size="12" text-anchor="end" fill="#1c1c1c">M-CSFR</text>
<text transform="translate(301.63,544.0) rotate(-45) scale(0.92,1)" font-size="12" text-anchor="end" fill="#1c1c1c">G-CSFR</text>
<text transform="translate(321.76,544.0) rotate(-45) scale(1.0,1)" font-size="12" text-anchor="end" fill="#1c1c1c">CD11b</text>
<text transform="translate(341.89,544.0) rotate(-45) scale(0.92,1)" font-size="12" text-anchor="end" fill="#1c1c1c">PU.1</text>
<text transform="translate(362.02,544.0) rotate(-45) scale(0.95,1)" font-size="12" text-anchor="end" fill="#1c1c1c">TLR2</text>
<text transform="translate(382.15,544.0) rotate(-45) scale(1.0,1)" font-size="12" text-anchor="end" fill="#1c1c1c">Ms4a6b</text>
<text transform="translate(402.28,544.0) rotate(-45) scale(1.0,1)" font-size="12" text-anchor="end" fill="#1c1c1c">Vldlr</text>
<text transform="translate(422.41,544.0) rotate(-45) scale(1.0,1)" font-size="12" text-anchor="end" fill="#1c1c1c">CD41</text>
<text transform="translate(442.54,544.0) rotate(-45) scale(1.0,1)" font-size="12" text-anchor="end" fill="#1c1c1c">Fli1</text>
<text transform="translate(462.67,544.0) rotate(-45) scale(1.0,1)" font-size="12" text-anchor="end" fill="#1c1c1c">Mt2</text>
<text transform="translate(482.80,544.0) rotate(-45) scale(1.0,1)" font-size="12" text-anchor="end" fill="#1c1c1c">Cldn13</text>
<text transform="translate(502.93,544.0) rotate(-45) scale(1.0,1)" font-size="12" text-anchor="end" fill="#1c1c1c">GATA1</text>
<text x="106.80" y="515.80" font-size="11.3" text-anchor="start" textLength="39.5" lengthAdjust="spacingAndGlyphs" fill="#1c1c1c" >Lympho</text>
<text x="282.40" y="515.80" font-size="11.3" text-anchor="start" textLength="30.3" lengthAdjust="spacingAndGlyphs" fill="#1c1c1c" >Myelo</text>
<text x="438.30" y="515.80" font-size="11.3" text-anchor="start" textLength="40.6" lengthAdjust="spacingAndGlyphs" fill="#1c1c1c" >E/MegE</text>
<rect x="88.10" y="279.60" width="9.20" height="9.10" fill="#aa002e"/>
<rect x="88.10" y="295.00" width="9.20" height="9.00" fill="#2b4a8a"/>
<text x="101.50" y="287.80" font-size="11.6" text-anchor="start" textLength="44.3" lengthAdjust="spacingAndGlyphs" fill="#1c1c1c" >GF / SPF</text>
<text x="101.50" y="303.20" font-size="11.6" text-anchor="start" textLength="70.2" lengthAdjust="spacingAndGlyphs" fill="#1c1c1c" >CoH-GF / SPF</text>
<text transform="translate(39.30,400.40) rotate(-90) scale(0.73,1)" font-size="15.0" text-anchor="middle" fill="#1c1c1c">Log2 ratio</text>
<rect x="0.85" y="0.85" width="518.3" height="585.3" fill="none" stroke="#000" stroke-width="1.7"/>
</svg>
</body></html>
